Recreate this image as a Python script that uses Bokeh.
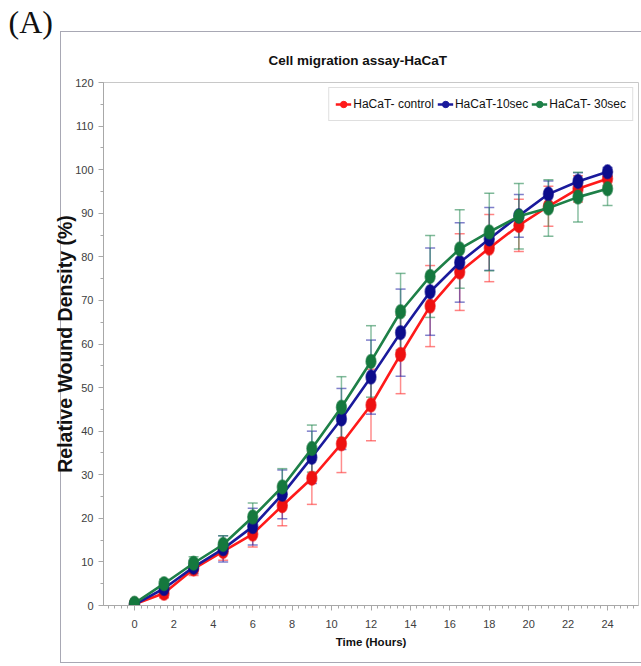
from bokeh.plotting import figure
from bokeh.models import (ColumnDataSource, Legend, LegendItem, Title,
                          FixedTicker, Range1d)
from bokeh.embed import file_html
from bokeh.resources import INLINE

# ---- data ----
hours = [0, 1.5, 3, 4.5, 6, 7.5, 9, 10.5, 12, 13.5, 15, 16.5, 18, 19.5, 21, 22.5, 24]
control = [0.3, 2.8, 8.4, 12.4, 16.4, 22.9, 29.2, 37.1, 46.0, 57.6, 68.7, 76.5, 82.0, 87.2, 91.6, 95.6, 97.9]
control_err = [0.5, 1.0, 1.5, 2.0, 3.0, 4.6, 6.0, 6.6, 8.2, 9.0, 9.3, 8.8, 7.7, 6.0, 4.6, 3.0, 1.5]
sec10 = [0.2, 3.9, 8.8, 13.0, 18.1, 25.5, 34.0, 42.8, 52.4, 62.6, 72.0, 78.7, 84.1, 89.4, 94.4, 97.3, 99.5]
sec10_err = [0.5, 1.0, 1.5, 3.0, 4.2, 5.6, 6.0, 7.0, 8.5, 10.0, 10.0, 9.1, 7.2, 4.9, 3.0, 2.0, 1.0]
sec30 = [0.5, 5.0, 9.7, 14.0, 20.3, 27.2, 36.0, 45.5, 56.0, 67.4, 75.5, 81.8, 85.7, 89.3, 91.2, 93.7, 95.6]
sec30_err = [0.5, 1.0, 1.5, 2.0, 3.2, 4.2, 5.4, 7.0, 8.2, 8.8, 9.4, 9.0, 8.9, 7.5, 6.5, 5.7, 3.8]

series_names = ["HaCaT- control", "HaCaT-10sec", "HaCaT- 30sec"]
x_ticks = [0, 2, 4, 6, 8, 10, 12, 14, 16, 18, 20, 22, 24]
y_ticks = [0, 10, 20, 30, 40, 50, 60, 70, 80, 90, 100, 110, 120]

title_text = "Cell migration assay-HaCaT"
panel_text = "(A)"
x_label = "Time (Hours)"
y_label = "Relative Wound Density (%)"

SANS = "Liberation Sans"
PANEL = "#a8a8b4"

p = figure(width=641, height=666, output_backend="svg", toolbar_location=None,
           x_range=Range1d(-1.57, 25.57), y_range=Range1d(0, 120),
           min_border_left=103, min_border_right=3, min_border_top=82, min_border_bottom=61)
p.background_fill_color = "white"
p.border_fill_alpha = 0
p.outline_line_color = "#c8c8c8"
p.outline_line_width = 1
p.xgrid.visible = False
p.ygrid.visible = False

# outer panel border drawn behind the (transparent) canvas border area
grad = f"linear-gradient({PANEL},{PANEL})"
p.styles = {
    "background-color": "white",
    "background-image": ", ".join([grad, grad, grad]),
    "background-repeat": "no-repeat",
    "background-position": "60px 31px, 60px 31px, 60px 662px",
    "background-size": "1px 632px, 600px 1px, 600px 1px",
}

# axes
p.xaxis.ticker = FixedTicker(ticks=x_ticks,
                             minor_ticks=[i / 3 for i in range(-4, 77)])
p.yaxis.ticker = FixedTicker(ticks=y_ticks, minor_ticks=list(range(0, 121, 5)))
for ax in (p.xaxis[0], p.yaxis[0]):
    ax.axis_line_color = "#a8a8a8"
    ax.major_tick_line_color = "#a8a8a8"
    ax.minor_tick_line_color = "#a8a8a8"
    ax.major_tick_in = 0
    ax.major_tick_out = 5
    ax.minor_tick_in = 0
    ax.minor_tick_out = 3
    ax.major_label_text_font = SANS
    ax.major_label_text_font_size = "11px"
    ax.major_label_text_color = "#404040"
p.xaxis.axis_label = x_label
p.xaxis.axis_label_text_font = SANS
p.xaxis.axis_label_text_font_style = "bold"
p.xaxis.axis_label_text_font_size = "11.5px"
p.xaxis.axis_label_text_color = "#111111"
p.xaxis.axis_label_standoff = 5
p.xaxis.major_label_standoff = 9
p.yaxis.axis_label = y_label
p.yaxis.axis_label_text_font = SANS
p.yaxis.axis_label_text_font_style = "bold"
p.yaxis.axis_label_text_font_size = "19.5px"
p.yaxis.axis_label_text_color = "#111111"
p.yaxis.axis_label_standoff = -4
p.yaxis.major_label_standoff = 5

line_colors = ["#ff1a1a", "#1a1a9c", "#1e8048"]
marker_colors = ["#ee1111", "#0c0c8c", "#15783e"]
err_colors = ["#ff3030", "#2a2aa8", "#2a8a55"]

all_vals = [control, sec10, sec30]
all_errs = [control_err, sec10_err, sec30_err]

for name, vals, errs, ec in zip(series_names, all_vals, all_errs, err_colors):
    lo = [v - e for v, e in zip(vals, errs)]
    hi = [v + e for v, e in zip(vals, errs)]
    src = ColumnDataSource(dict(x=hours, y=vals, lo=lo, hi=hi))
    p.segment(x0="x", y0="lo", x1="x", y1="hi", source=src,
              line_color=ec, line_alpha=0.55, line_width=1.5)
    p.scatter(x="x", y="lo", source=src, marker="dash", size=10,
              line_color=ec, line_alpha=0.6, line_width=1.5)
    p.scatter(x="x", y="hi", source=src, marker="dash", size=10,
              line_color=ec, line_alpha=0.6, line_width=1.5)

legend_items = []
for name, vals, lc, mc in zip(series_names, all_vals, line_colors, marker_colors):
    src = ColumnDataSource(dict(x=hours, y=vals))
    ln = p.line(x="x", y="y", source=src, line_color=lc, line_width=2.6)
    p.ellipse(x="x", y="y", width=10, height=14, width_units="screen",
              height_units="screen", source=src, fill_color=mc,
              line_color=mc, line_alpha=0.6, line_width=1.5)
    # off-range marker used only for the legend glyph
    dummy = p.scatter(x=[-100], y=[-100], marker="circle", size=7,
                      fill_color=lc, line_color=lc)
    legend_items.append(LegendItem(label=name, renderers=[ln, dummy]))

legend = Legend(items=legend_items, orientation="horizontal", location="top_right",
                margin=5, padding=6, spacing=3, glyph_width=16, glyph_height=20,
                label_standoff=2, label_text_font=SANS,
                label_text_font_size="12px", label_text_color="#111111",
                border_line_color="#c0c0c0", background_fill_color="white",
                background_fill_alpha=1.0)
p.add_layout(legend, "center")

# chart title and panel letter
t1 = Title(text=title_text, align="left", offset=165, standoff=26,
           vertical_align="top",
           text_font=SANS, text_font_style="bold", text_font_size="13.5px",
           text_color="#111111")
t2 = Title(text=panel_text, align="left", offset=-95, standoff=0,
           text_font="Liberation Serif", text_font_style="normal",
           text_font_size="32px", text_color="#111111")
p.add_layout(t1, "above")
p.add_layout(t2, "above")

open("out.html", "w").write(file_html(p, INLINE))
